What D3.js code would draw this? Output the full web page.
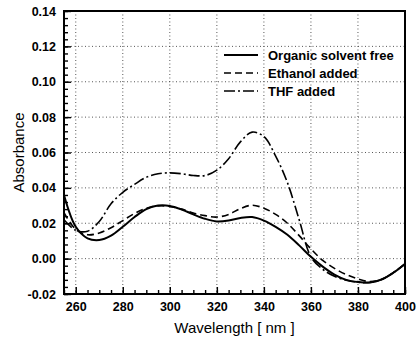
<!DOCTYPE html>
<html>
<head>
<meta charset="utf-8">
<script src="https://cdn.jsdelivr.net/npm/d3@7"></script>
<style>
  body { margin: 0; background: #fff; }
  svg { font-family: "Liberation Sans", Arial, sans-serif; }
</style>
</head>
<body>
<div id="chart"></div>
<script>
// wavelengths (nm) and absorbance
const wavelength = [255, 260, 265, 270, 275, 280, 285, 290, 295, 300, 305, 310, 315, 320, 325,
                    330, 335, 340, 345, 350, 355, 360, 365, 370, 375, 380, 385, 390, 395, 400]
const solventFree = [0.036, 0.018, 0.0115, 0.0105, 0.013, 0.018, 0.0235, 0.028, 0.030, 0.0298,
                     0.0278, 0.025, 0.0225, 0.021, 0.0215, 0.023, 0.0235, 0.0215, 0.018, 0.0135,
                     0.0075, 0.001, -0.0045, -0.009, -0.012, -0.0132, -0.0135, -0.0118, -0.008, -0.003]
const ethanolAdded = [0.026, 0.0165, 0.0135, 0.0145, 0.0175, 0.0215, 0.0255, 0.0285, 0.0298, 0.0295,
                      0.028, 0.0258, 0.0243, 0.0235, 0.025, 0.0283, 0.0302, 0.0285, 0.025, 0.020,
                      0.013, 0.0055, -0.001, -0.0055, -0.009, -0.0115, -0.013, -0.0118, -0.008, -0.003]
const thfAdded = [0.022, 0.016, 0.0155, 0.021, 0.031, 0.0375, 0.042, 0.046, 0.048, 0.0485,
                  0.048, 0.047, 0.047, 0.050, 0.0565, 0.066, 0.0715, 0.069, 0.058, 0.043,
                  0.022, 0.001, -0.006, -0.010, -0.0122, -0.0133, -0.0135, -0.0118, -0.008, -0.003]

const seriesNames = ["Organic solvent free", "Ethanol added", "THF added"]
const xTicks = [260, 280, 300, 320, 340, 360, 380, 400]
const yTicks = [-0.02, 0.00, 0.02, 0.04, 0.06, 0.08, 0.10, 0.12, 0.14]

const width = 419, height = 339
const plotLeft = 64, plotRight = 405, plotTop = 11, plotBottom = 294

const svg = d3.select("#chart").append("svg")
    .attr("width", width)
    .attr("height", height)

const x = d3.scaleLinear().domain([255, 400]).range([plotLeft, plotRight])
const y = d3.scaleLinear().domain([-0.02, 0.14]).range([plotBottom, plotTop])

// dotted grid at the major ticks
const grid = svg.append("g")
grid.selectAll("line.gx")
    .data(xTicks.filter(d => d < 400))
    .enter().append("line")
    .attr("class", "gx")
    .attr("x1", d => x(d)).attr("x2", d => x(d))
    .attr("y1", plotTop).attr("y2", plotBottom)
grid.selectAll("line.gy")
    .data(yTicks.filter(d => d > -0.02 && d < 0.14))
    .enter().append("line")
    .attr("class", "gy")
    .attr("x1", plotLeft).attr("x2", plotRight)
    .attr("y1", d => y(d)).attr("y2", d => y(d))
grid.selectAll("line")
    .attr("stroke", "#444")
    .attr("stroke-width", 0.9)
    .attr("stroke-dasharray", "1,2.5")

// minor ticks
const xMinor = d3.range(255, 401, 5)
const yMinor = d3.range(-0.02, 0.1401, 0.004)

svg.append("g")
    .attr("transform", `translate(0,${plotBottom})`)
    .call(d3.axisBottom(x).tickValues(xMinor).tickSize(-4).tickSizeOuter(0).tickFormat(""))
    .call(g => g.select(".domain").remove())
svg.append("g")
    .attr("transform", `translate(${plotLeft},0)`)
    .call(d3.axisLeft(y).tickValues(yMinor).tickSize(-4).tickSizeOuter(0).tickFormat(""))
    .call(g => g.select(".domain").remove())

// major ticks with labels
const xAxis = svg.append("g")
    .attr("transform", `translate(0,${plotBottom})`)
    .call(d3.axisBottom(x).tickValues(xTicks).tickSize(-7).tickSizeOuter(0).tickPadding(16)
        .tickFormat(d => d))
xAxis.select(".domain").remove()

const yAxis = svg.append("g")
    .attr("transform", `translate(${plotLeft},0)`)
    .call(d3.axisLeft(y).tickValues(yTicks).tickSize(-7).tickSizeOuter(0).tickPadding(16)
        .tickFormat(d => d.toFixed(2)))
yAxis.select(".domain").remove()

svg.selectAll(".tick line").attr("stroke", "#000").attr("stroke-width", 1.4)
svg.selectAll(".tick text")
    .attr("fill", "#000")
    .style("font-size", "12.5px")
    .style("font-weight", "bold")
xAxis.selectAll(".tick text").attr("y", 8).attr("dy", "0.71em")
yAxis.selectAll(".tick text").attr("x", -8)

// frame
svg.append("rect")
    .attr("x", plotLeft).attr("y", plotTop)
    .attr("width", plotRight - plotLeft).attr("height", plotBottom - plotTop)
    .attr("fill", "none")
    .attr("stroke", "#000")
    .attr("stroke-width", 2)

// curves
const series = [
    { name: seriesNames[0], values: solventFree, dash: null, w: 2 },
    { name: seriesNames[1], values: ethanolAdded, dash: "7,4", w: 1.6 },
    { name: seriesNames[2], values: thfAdded, dash: "11,3,2,3", w: 1.6 }
]

const line = d3.line()
    .x((d, i) => x(wavelength[i]))
    .y(d => y(d))
    .curve(d3.curveCatmullRom.alpha(0.5))

svg.append("g").selectAll("path")
    .data(series)
    .enter().append("path")
    .attr("d", d => line(d.values))
    .attr("fill", "none")
    .attr("stroke", "#000")
    .attr("stroke-width", d => d.w)
    .attr("stroke-dasharray", d => d.dash)

// legend
const legend = svg.append("g")
    .selectAll("g")
    .data(series)
    .enter().append("g")
    .attr("transform", (d, i) => `translate(224,${55 + i * 18})`)
legend.append("line")
    .attr("x1", 0).attr("x2", 34)
    .attr("stroke", "#000")
    .attr("stroke-width", d => d.w)
    .attr("stroke-dasharray", d => d.dash)
legend.append("text")
    .attr("x", 44)
    .attr("dy", "0.35em")
    .style("font-size", "13px")
    .style("font-weight", "bold")
    .text(d => d.name)

// axis titles
svg.append("text")
    .attr("x", (plotLeft + plotRight) / 2)
    .attr("y", 333)
    .attr("text-anchor", "middle")
    .style("font-size", "15px")
    .text("Wavelength [ nm ]")

svg.append("text")
    .attr("transform", `translate(24,${(plotTop + plotBottom) / 2}) rotate(-90)`)
    .attr("text-anchor", "middle")
    .style("font-size", "15px")
    .text("Absorbance")
</script>
</body>
</html>
